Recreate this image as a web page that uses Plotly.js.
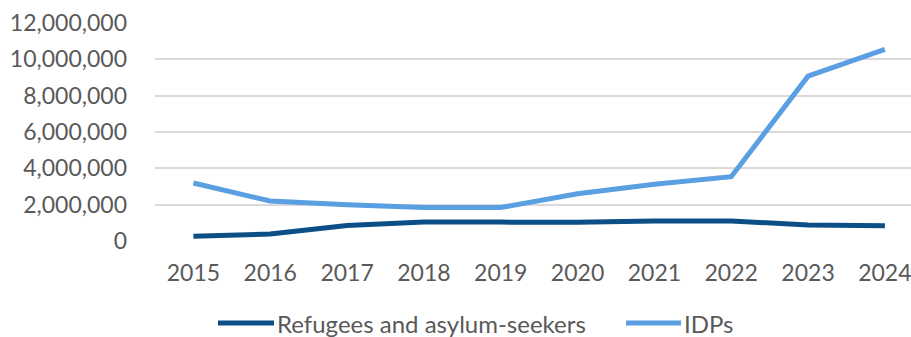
<!DOCTYPE html>
<html><head><meta charset="utf-8">
<script src="https://cdn.plot.ly/plotly-3.0.1.min.js"></script>
<style>html,body{margin:0;padding:0;background:#fff;}#chart{width:911px;height:337px;}</style>
</head><body><div id="chart"></div>
<script>
const years = ['2015','2016','2017','2018','2019','2020','2021','2022','2023','2024'];
const refugees = [260000, 380000, 850000, 1040000, 1040000, 1030000, 1100000, 1100000, 880000, 840000];
const idps = [3190000, 2200000, 2000000, 1840000, 1840000, 2600000, 3120000, 3540000, 9070000, 10550000];
const seriesNames = ['Refugees and asylum-seekers', 'IDPs'];
const seriesColors = ['#0B4F86', '#5B9FE3'];

const W = 911, H = 337, ML = 155, MR = 0, MT = 23, MB = 96;
const PW = W - ML - MR, PH = H - MT - MB;
const px2x = p => (p - ML) / PW;
const px2y = p => (H - MB - p) / PH;

const font = {family: 'Lato, "Open Sans", sans-serif', size: 23, color: '#595959'};
const legendFont = {family: 'Lato, "Open Sans", sans-serif', size: 24, color: '#595959'};
const traces = [
  {x: years, y: refugees, name: seriesNames[0], type: 'scatter', mode: 'lines',
   line: {color: seriesColors[0], width: 5}},
  {x: years, y: idps, name: seriesNames[1], type: 'scatter', mode: 'lines',
   line: {color: seriesColors[1], width: 5}}
];

// custom legend (long line swatches like the reference)
const legendY = 323;
const legendItems = [{x0: 218, x1: 274}, {x0: 626, x1: 681}];
const shapes = legendItems.map((it, i) => ({
  type: 'line', xref: 'paper', yref: 'paper',
  x0: px2x(it.x0), x1: px2x(it.x1), y0: px2y(legendY), y1: px2y(legendY),
  line: {color: seriesColors[i], width: 5}
}));
const annotations = legendItems.map((it, i) => ({
  xref: 'paper', yref: 'paper', x: px2x(it.x1 + 1), y: px2y(legendY),
  xanchor: 'left', yanchor: 'middle', showarrow: false, text: seriesNames[i], font: legendFont
}));

const layout = {
  width: W, height: H,
  margin: {l: ML, r: MR, t: MT, b: MB},
  paper_bgcolor: '#fff', plot_bgcolor: '#fff',
  font: font,
  showlegend: false,
  shapes: shapes,
  annotations: annotations,
  xaxis: {type: 'category', range: [-0.5, 9.34], showgrid: false, zeroline: false, showline: false,
          ticks: '', tickfont: font, ticklabelstandoff: 16, fixedrange: true},
  yaxis: {range: [0, 12000000], dtick: 2000000, tickformat: ',d', showgrid: true, gridcolor: '#D9D9D9', gridwidth: 2,
          zeroline: false, showline: false, ticks: '', tickfont: font, ticklabelstandoff: 27, fixedrange: true}
};
Plotly.newPlot('chart', traces, layout, {displayModeBar: false, staticPlot: true});
</script></body></html>
